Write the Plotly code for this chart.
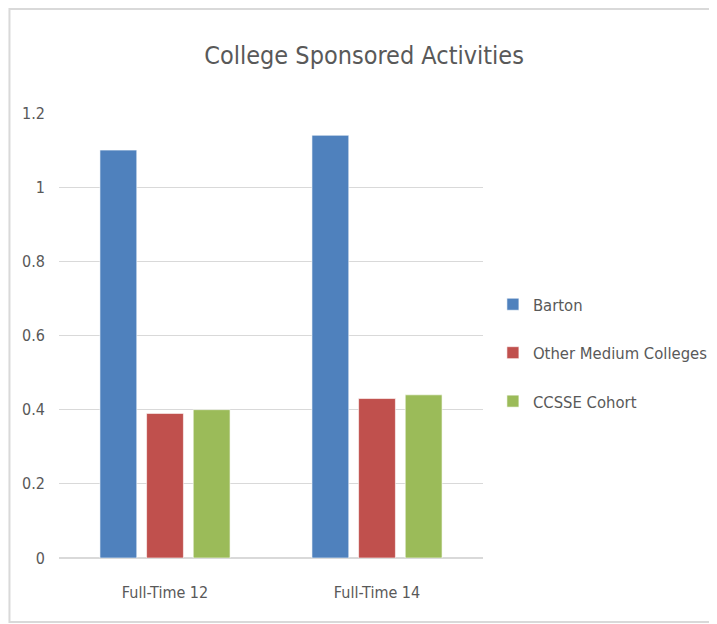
import plotly.graph_objects as go

categories = ["Full-Time 12", "Full-Time 14"]
series_names = ["Barton", "Other Medium Colleges", "CCSSE Cohort"]
barton = [1.10, 1.14]
other_medium = [0.39, 0.43]
ccsse = [0.40, 0.44]
colors = ["#4F81BD", "#C0504D", "#9BBB59"]
y_ticks = [0, 0.2, 0.4, 0.6, 0.8, 1.0, 1.2]
y_tick_labels = ["0", "0.2", "0.4", "0.6", "0.8", "1", "1.2"]

FONT = "Liberation Sans Narrow, DejaVu Sans Condensed, Arial Narrow, sans-serif"
TXT = "#595959"

fig = go.Figure()
for name, vals, col in zip(series_names, [barton, other_medium, ccsse], colors):
    fig.add_trace(go.Bar(
        x=categories, y=vals, name=name, legendgroup=name,
        marker=dict(color=col, line=dict(color="rgba(255,255,255,0.6)", width=1)),
    ))

# page offset of the figure inside the browser window
OFF = 8
W, H = 717, 624
L, T = 59 - OFF, 113 - OFF
pw, ph = 428, 445
R, B = W - L - pw, H - T - ph

def px(x):  # reference screen x -> paper x
    return (x - OFF - L) / pw

def py(y):  # reference screen y -> paper y
    return (H - B - (y - OFF)) / ph

fig.update_layout(
    width=W, height=H,
    margin=dict(l=L, r=R, t=T, b=B, pad=0),
    paper_bgcolor="white", plot_bgcolor="white",
    barmode="group", bargap=0.34, bargroupgap=0.21,
    font=dict(family=FONT, color=TXT, size=16),
    title=dict(text="College Sponsored Activities", x=px(367), xref="paper",
               xanchor="center", y=1 - (55 - OFF) / H, yanchor="middle",
               font=dict(family=FONT, size=25, color=TXT)),
    showlegend=True,
    legend=dict(x=px(497), y=py(353), xanchor="left", yanchor="middle",
                font=dict(family=FONT, size=16.5, color=TXT),
                tracegroupgap=24, bgcolor="rgba(0,0,0,0)"),
    xaxis=dict(showgrid=False, showline=True, linecolor="#d9d9d9", linewidth=1,
               ticks="", ticklabelstandoff=20,
               tickfont=dict(family=FONT, size=16, color=TXT)),
    yaxis=dict(range=[0, 1.2], tickvals=y_ticks, ticktext=y_tick_labels,
               showgrid=True, gridcolor="#d9d9d9", gridwidth=1,
               zeroline=True, zerolinecolor="#d9d9d9", showline=False,
               ticks="", ticklabelstandoff=13,
               tickfont=dict(family=FONT, size=16, color=TXT)),
    shapes=[dict(type="rect", xref="paper", yref="paper",
                 x0=px(9), x1=px(740), y0=py(622), y1=py(9),
                 line=dict(color="#d9d9d9", width=2), fillcolor="rgba(0,0,0,0)",
                 layer="below")],
)

fig.write_html("out.html")
